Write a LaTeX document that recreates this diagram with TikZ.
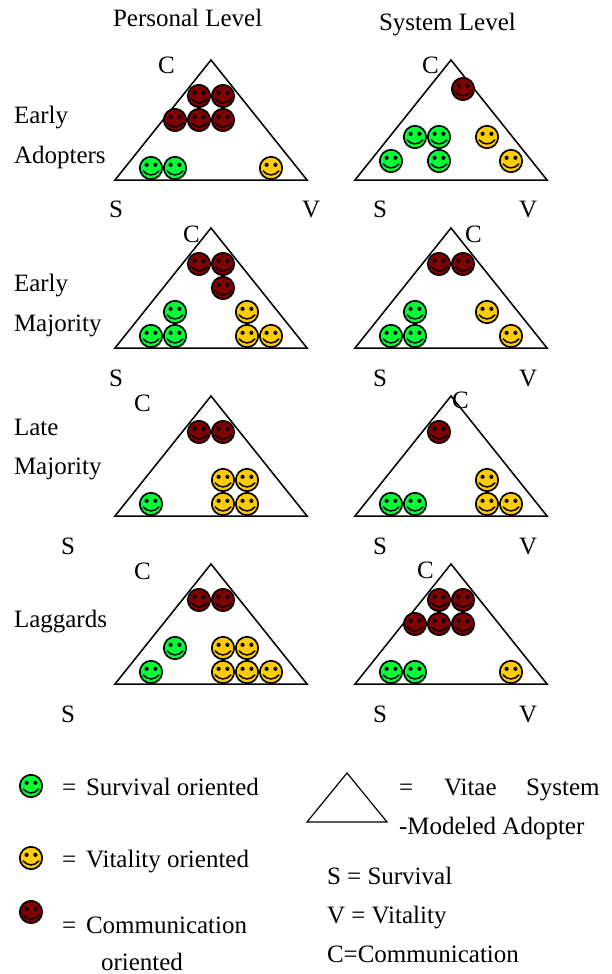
\documentclass[tikz,border=0pt]{standalone}
\usepackage{fontspec}
\setmainfont{Liberation Serif}
\definecolor{sgreen}{RGB}{0,255,51}
\definecolor{syellow}{RGB}{255,204,0}
\definecolor{sdark}{RGB}{128,0,0}
\tikzset{
  lbl/.style={anchor=base west,inner sep=0pt,outer sep=0pt,font=\fontsize{25}{30}\selectfont},
  tri/.style={draw=black,line width=1.5pt,line join=miter,fill=none},
}
\newcommand{\smiley}[3]{%
  \begin{scope}[shift={(#1,#2)}]
    \fill[#3,draw=black,line width=1.7pt] (0,0) circle (11.2);
    \fill[black] (-4.4,-3.2) circle (2.1);
    \fill[black] (4.4,-3.2) circle (2.1);
    \draw[black,line width=1.5pt,line cap=round] (-7.8,3) .. controls (-3.5,8.2) and (3.5,8.2) .. (7.8,3);
  \end{scope}}
\newcommand{\trig}[2]{\draw[tri] (#1,#2) -- ++(96,120) -- ++(-192,0) -- cycle;}
\newcommand{\many}[2]{\foreach \a/\b in {#2} {\smiley{\a}{\b}{#1}}}
\begin{document}
\begin{tikzpicture}[x=1pt,y=-1pt]
\useasboundingbox (0,0) rectangle (611,974);
% triangles
\foreach \y in {60,228,396,564} {\trig{211}{\y}\trig{451}{\y}}
% row 1
\many{sdark}{199/96,223/96,175/120,199/120,223/120,463/89}
\many{sgreen}{151/168,175/168,415/137,439/137,391/161,439/161}
\many{syellow}{271/168,487/137,511/161}
% row 2
\many{sdark}{199/264,223/264,223/288,439/264,463/264}
\many{sgreen}{175/312,151/336,175/336,415/312,391/336,415/336}
\many{syellow}{247/312,247/336,271/336,487/312,511/336}
% row 3
\many{sdark}{199/432,223/432,439/432}
\many{sgreen}{151/504,391/504,415/504}
\many{syellow}{223/480,247/480,223/504,247/504,487/480,487/504,511/504}
% row 4
\many{sdark}{199/600,223/600,439/600,463/600,415/624,439/624,463/624}
\many{sgreen}{175/648,151/672,391/672,415/672}
\many{syellow}{223/648,247/648,223/672,247/672,271/672,511/672}
% legend
\smiley{31}{786}{sgreen}
\smiley{31}{858}{syellow}
\smiley{31}{912}{sdark}
\draw[tri,line width=1.2pt] (347,773) -- (387,822) -- (307,822) -- cycle;
% text
\node[lbl] (t1) at (113,27) {Personal Level};
\node[lbl] (t2) at (379,30.5) {System Level};
\node[lbl] (r1a) at (14,123) {Early};
\node[lbl] (r1b) at (14,163) {Adopters};
\node[lbl] (r2a) at (14,291) {Early};
\node[lbl] (r2b) at (14,331) {Majority};
\node[lbl] (r3a) at (14,435) {Late};
\node[lbl] (r3b) at (14,474) {Majority};
\node[lbl] (r4a) at (14,627) {Laggards};
\node[lbl] (c11) at (158,74) {C};
\node[lbl] (c12) at (422,74) {C};
\node[lbl] (c21) at (183,242) {C};
\node[lbl] (c22) at (465,242) {C};
\node[lbl] (c31) at (134,411) {C};
\node[lbl] (c32) at (452,408) {C};
\node[lbl] (c41) at (134,579) {C};
\node[lbl] (c42) at (417,578) {C};
\node[lbl] (s11) at (109,217) {S};
\node[lbl] (v11) at (302,217) {V};
\node[lbl] (s12) at (373,217) {S};
\node[lbl] (v12) at (519,217) {V};
\node[lbl] (s21) at (109,386) {S};
\node[lbl] (s22) at (373,386) {S};
\node[lbl] (v22) at (519,386) {V};
\node[lbl] (s31) at (61,554) {S};
\node[lbl] (s32) at (373,554) {S};
\node[lbl] (v32) at (519,554) {V};
\node[lbl] (s41) at (61,722) {S};
\node[lbl] (s42) at (373,722) {S};
\node[lbl] (v42) at (519,722) {V};
\node[lbl] (l1) at (62,795) {=};
\node[lbl] (l1t) at (86,795) {Survival oriented};
\node[lbl] (l2) at (62,867) {=};
\node[lbl] (l2t) at (86,867) {Vitality oriented};
\node[lbl] (l3) at (62,933) {=};
\node[lbl] (l3t) at (86,933) {Communication};
\node[lbl] (l3u) at (101,970.5) {oriented};
\node[lbl] (e) at (399,795) {=};
\node[lbl] (e1) at (444,795) {Vitae};
\node[lbl] (e2) at (526,795) {System};
\node[lbl] (e3) at (399,834) {-Modeled Adopter};
\node[lbl] (k1) at (327,884) {S = Survival};
\node[lbl] (k2) at (327,923) {V = Vitality};
\node[lbl] (k3) at (327,962) {C=Communication};
\end{tikzpicture}
\end{document}
